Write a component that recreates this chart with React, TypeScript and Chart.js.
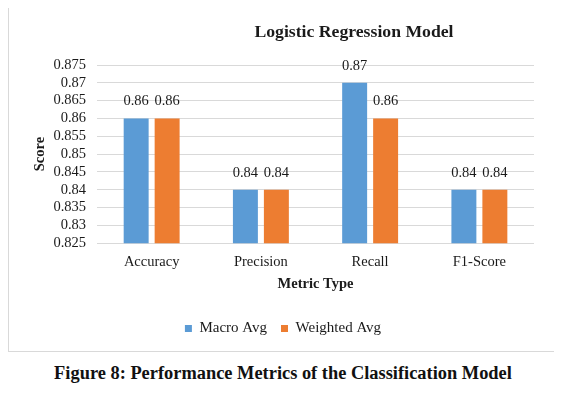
import React, { useEffect, useRef } from "react";
import { Chart, registerables } from "chart.js";

Chart.register(...registerables);

const categories = ["Accuracy", "Precision", "Recall", "F1-Score"];
const macroAvg = [0.86, 0.84, 0.87, 0.84];
const weightedAvg = [0.86, 0.84, 0.86, 0.84];
const seriesNames = ["Macro Avg", "Weighted Avg"];
const chartTitle = "Logistic Regression Model";
const xTitle = "Metric Type";
const yTitle = "Score";
const caption = "Figure 8: Performance Metrics of the Classification Model";
const yMin = 0.825;
const yMax = 0.875;
const yStep = 0.005;

const SERIF = "'Liberation Serif', 'Times New Roman', serif";
const TEXT = "#1a1a1a";

const valueLabels = {
  id: "valueLabels",
  afterDatasetsDraw(chart: any) {
    const ctx = chart.ctx;
    ctx.save();
    ctx.font = `14.5px ${SERIF}`;
    ctx.fillStyle = TEXT;
    ctx.textAlign = "center";
    ctx.textBaseline = "middle";
    chart.data.datasets.forEach((ds: any, i: number) => {
      const meta = chart.getDatasetMeta(i);
      meta.data.forEach((bar: any, j: number) => {
        ctx.fillText(String(ds.data[j].toFixed(2)), bar.x, bar.y - 17);
      });
    });
    ctx.restore();
  },
};

const offsetTitle = {
  id: "offsetTitle",
  afterDraw(chart: any) {
    const ctx = chart.ctx;
    const a = chart.chartArea;
    ctx.save();
    ctx.font = `bold 17.7px ${SERIF}`;
    ctx.fillStyle = TEXT;
    ctx.textAlign = "center";
    ctx.textBaseline = "middle";
    ctx.fillText(chartTitle, a.left + (a.right - a.left) * 0.588, a.top - 33);
    ctx.restore();
  },
};

export default function App() {
  const ref = useRef<HTMLCanvasElement>(null);
  useEffect(() => {
    if (!ref.current) return;
    const chart = new Chart(ref.current, {
      type: "bar",
      data: {
        labels: categories,
        datasets: [
          {
            label: seriesNames[0],
            data: macroAvg,
            backgroundColor: "#5B9BD5",
            categoryPercentage: 0.567,
            barPercentage: 0.806,
          },
          {
            label: seriesNames[1],
            data: weightedAvg,
            backgroundColor: "#ED7D31",
            categoryPercentage: 0.567,
            barPercentage: 0.806,
          },
        ],
      },
      options: {
        responsive: false,
        animation: false,
        layout: { padding: { top: 57, left: 23, right: 20, bottom: 5 } },
        scales: {
          x: {
            grid: { display: false },
            border: { display: false },
            ticks: { color: TEXT, font: { family: SERIF, size: 14.5 }, padding: 2 },
            title: {
              display: true,
              text: xTitle,
              color: TEXT,
              font: { family: SERIF, size: 14.5, weight: "bold" },
              padding: { top: 3, bottom: 14 },
            },
          },
          y: {
            min: yMin,
            max: yMax,
            grid: { color: "#D9D9D9", drawTicks: false },
            border: { display: false },
            ticks: {
              stepSize: yStep,
              autoSkip: false,
              color: TEXT,
              padding: 11,
              font: { family: SERIF, size: 14.5 },
              callback: (v: any) => String(Number(Number(v).toFixed(3))),
            },
            title: {
              display: true,
              text: yTitle,
              color: TEXT,
              font: { family: SERIF, size: 14.5, weight: "bold" },
              padding: { top: 0, bottom: -7 },
            },
          },
        },
        plugins: {
          title: { display: false },
          tooltip: { enabled: false },
          legend: {
            position: "bottom",
            labels: {
              boxWidth: 7,
              boxHeight: 7,
              padding: 14,
              color: TEXT,
              font: { family: SERIF, size: 15 },
            },
          },
        },
      },
      plugins: [valueLabels, offsetTitle],
    });
    return () => chart.destroy();
  }, []);

  return (
    <div style={{ width: 547 }}>
      <div
        style={{
          width: 545,
          height: 343,
          border: "1px solid #D9D9D9",
          marginTop: -1,
          background: "#fff",
        }}
      >
        <canvas ref={ref} width={545} height={343} style={{ display: "block" }} />
      </div>
      <div
        style={{
          textAlign: "center",
          fontFamily: SERIF,
          fontWeight: "bold",
          fontSize: 18.4,
          color: "#111",
          marginTop: 11,
          paddingLeft: 3,
        }}
      >
        {caption}
      </div>
    </div>
  );
}
